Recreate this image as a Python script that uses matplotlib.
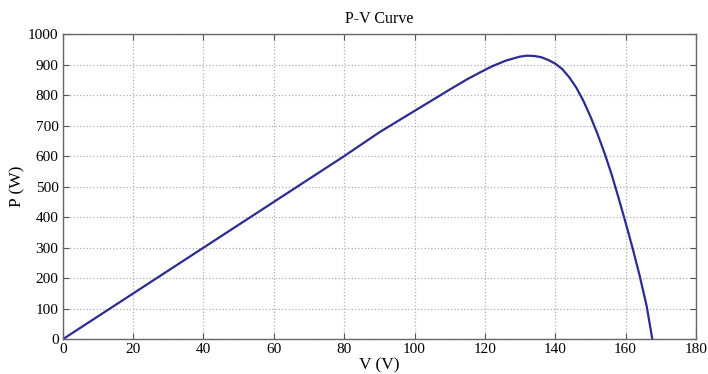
import matplotlib
matplotlib.use("Agg")
import matplotlib.pyplot as plt

# values
voltage = [0, 20, 40, 60, 80, 90, 100, 110, 115, 118.6, 122, 126, 130, 132,
           134, 136, 138, 140, 142, 144, 146, 148, 150, 152, 154, 156, 158,
           160, 162, 164, 166, 167.6]
power = [0, 150, 300, 450, 600, 678, 748, 818, 852, 874, 894, 913, 926, 929,
         928, 924, 915, 903, 885, 858, 824, 781, 730, 673, 610, 541, 463,
         382, 298, 208, 108, 0]

x_ticks = [0, 20, 40, 60, 80, 100, 120, 140, 160, 180]
y_ticks = [0, 100, 200, 300, 400, 500, 600, 700, 800, 900, 1000]

plt.rcParams['font.family'] = ['Liberation Serif', 'DejaVu Serif']

fig = plt.figure(figsize=(7.08, 3.74), dpi=100)
ax = fig.add_axes([0.0886, 0.0928, 0.8944, 0.8163])

ax.plot(voltage, power, color='#2b2b95', linewidth=1.6)

ax.set_xlim(0, 180)
ax.set_ylim(0, 1000)
ax.set_xticks(x_ticks)
ax.set_yticks(y_ticks)
ax.grid(True, linestyle=':', color='#b0b0b0', linewidth=0.9)
ax.tick_params(direction='in', top=True, right=True, length=4,
               labelsize=11, color='#555555', pad=3)
for s in ax.spines.values():
    s.set_color('#666666')
    s.set_linewidth(1.0)

ax.set_title('P-V Curve', fontsize=11.5, pad=8)
ax.set_xlabel('V (V)', fontsize=12.5, labelpad=1)
ax.set_ylabel('P (W)', fontsize=12.5, labelpad=2)

fig.savefig('out.png', dpi=100)
